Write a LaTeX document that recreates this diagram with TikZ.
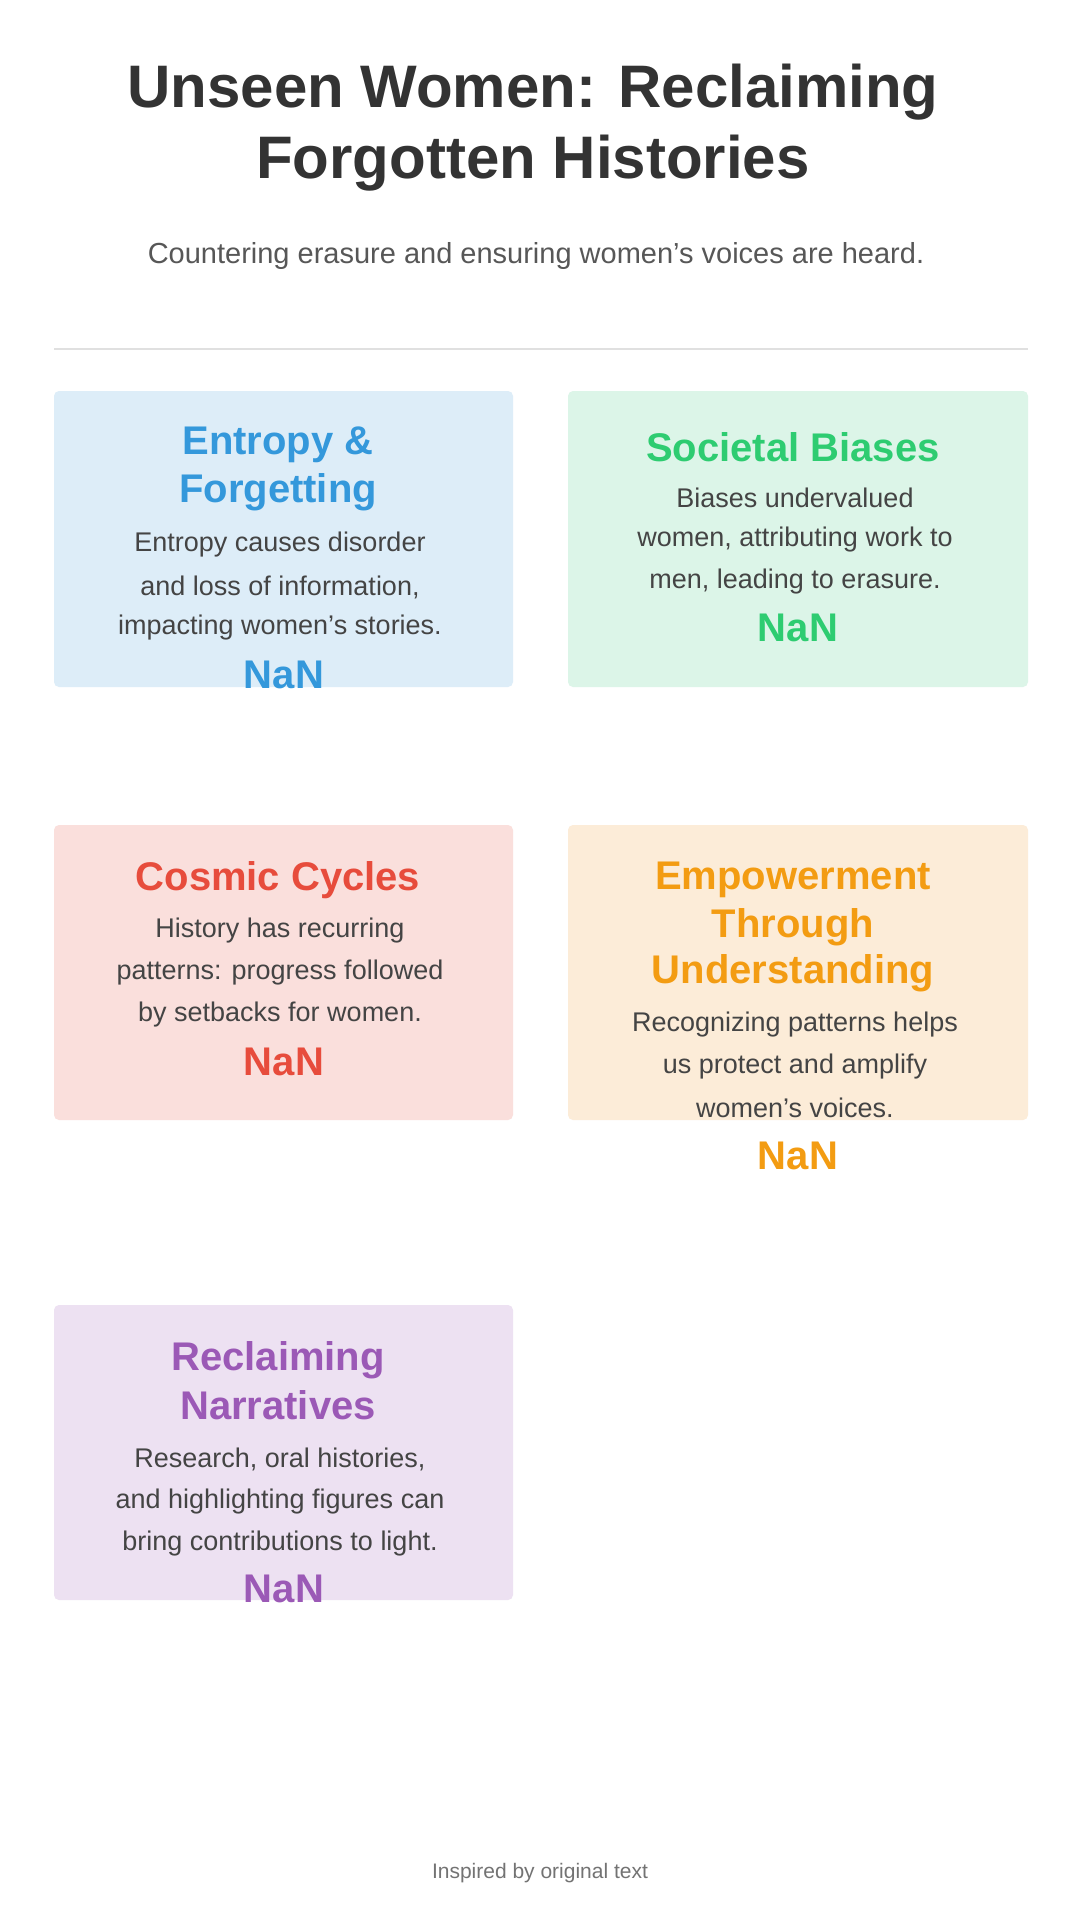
\documentclass[tikz,border=0pt]{standalone}
\usepackage{fontspec}
\setmainfont{Liberation Sans}
\definecolor{tcol}{HTML}{333333}
\definecolor{bcol}{HTML}{444444}
\definecolor{cb}{HTML}{3498DB}\definecolor{cbb}{HTML}{DDEDF8}
\definecolor{cg}{HTML}{2ECC71}\definecolor{cgb}{HTML}{DCF5E8}
\definecolor{cr}{HTML}{E74C3C}\definecolor{crb}{HTML}{FADFDC}
\definecolor{co}{HTML}{F39C12}\definecolor{cob}{HTML}{FCECD8}
\definecolor{cp}{HTML}{9B59B6}\definecolor{cpb}{HTML}{EDE1F2}
\begin{document}
\begin{tikzpicture}[x=1pt,y=-1pt,
  card/.style={rounded corners=5pt},
  ttl/.style={font=\fontsize{40}{40}\selectfont\bfseries,inner sep=0pt},
  bod/.style={font=\fontsize{27}{27}\selectfont,text=bcol,inner sep=0pt},
  nan/.style={font=\fontsize{40}{40}\selectfont\bfseries,inner sep=0pt}]
\useasboundingbox[fill=white] (0,0) rectangle (1080,1920);
\node[font=\fontsize{60}{60}\selectfont\bfseries,text=tcol] (t1) at (533,92) {Unseen Women: Reclaiming};
\node[font=\fontsize{60}{60}\selectfont\bfseries,text=tcol] (t2) at (533,163) {Forgotten Histories};
\node[font=\fontsize{29}{29}\selectfont,text=bcol!90] (sub) at (536,256) {Countering erasure and ensuring women's voices are heard.};
\draw[black!12,line width=1.2pt] (54,349) -- (1028,349);
% boxes
\fill[cbb,card] (54,391) rectangle (513,687);
\fill[cgb,card] (568,391) rectangle (1028,687);
\fill[crb,card] (54,825) rectangle (513,1120);
\fill[cob,card] (568,825) rectangle (1028,1120);
\fill[cpb,card] (54,1305) rectangle (513,1600);
% box1
\node[ttl,text=cb] (a1) at (278,445) {Entropy \&};
\node[ttl,text=cb] (a2) at (278,492) {Forgetting};
\node[bod] (a3) at (280,545) {Entropy causes disorder};
\node[bod] (a4) at (280,587) {and loss of information,};
\node[bod] (a5) at (280,628) {impacting women's stories.};
\node[nan,text=cb] (a6) at (284,675) {NaN};
% box2
\node[ttl,text=cg] (b1) at (793,447) {Societal Biases};
\node[bod] (b3) at (795,498) {Biases undervalued};
\node[bod] (b4) at (795,540) {women, attributing work to};
\node[bod] (b5) at (795,582) {men, leading to erasure.};
\node[nan,text=cg] (b6) at (798,628) {NaN};
% box3
\node[ttl,text=cr] (c1) at (278,880) {Cosmic Cycles};
\node[bod] (c3) at (280,931) {History has recurring};
\node[bod] (c4) at (280,973) {patterns: progress followed};
\node[bod] (c5) at (280,1015) {by setbacks for women.};
\node[nan,text=cr] (c6) at (284,1062) {NaN};
% box4
\node[ttl,text=co] (d1) at (793,880) {Empowerment};
\node[ttl,text=co] (d2) at (793,927) {Through};
\node[ttl,text=co] (d3) at (793,973) {Understanding};
\node[bod] (d4) at (795,1025) {Recognizing patterns helps};
\node[bod] (d5) at (795,1067) {us protect and amplify};
\node[bod] (d6) at (795,1108) {women's voices.};
\node[nan,text=co] (d7) at (798,1156) {NaN};
% box5
\node[ttl,text=cp] (e1) at (278,1360) {Reclaiming};
\node[ttl,text=cp] (e2) at (278,1405) {Narratives};
\node[bod] (e3) at (280,1459) {Research, oral histories,};
\node[bod] (e4) at (280,1501) {and highlighting figures can};
\node[bod] (e5) at (280,1543) {bring contributions to light.};
\node[nan,text=cp] (e6) at (284,1589) {NaN};
\node[font=\fontsize{21}{21}\selectfont,text=black!55] (f) at (540,1873) {Inspired by original text};
\end{tikzpicture}
\end{document}
